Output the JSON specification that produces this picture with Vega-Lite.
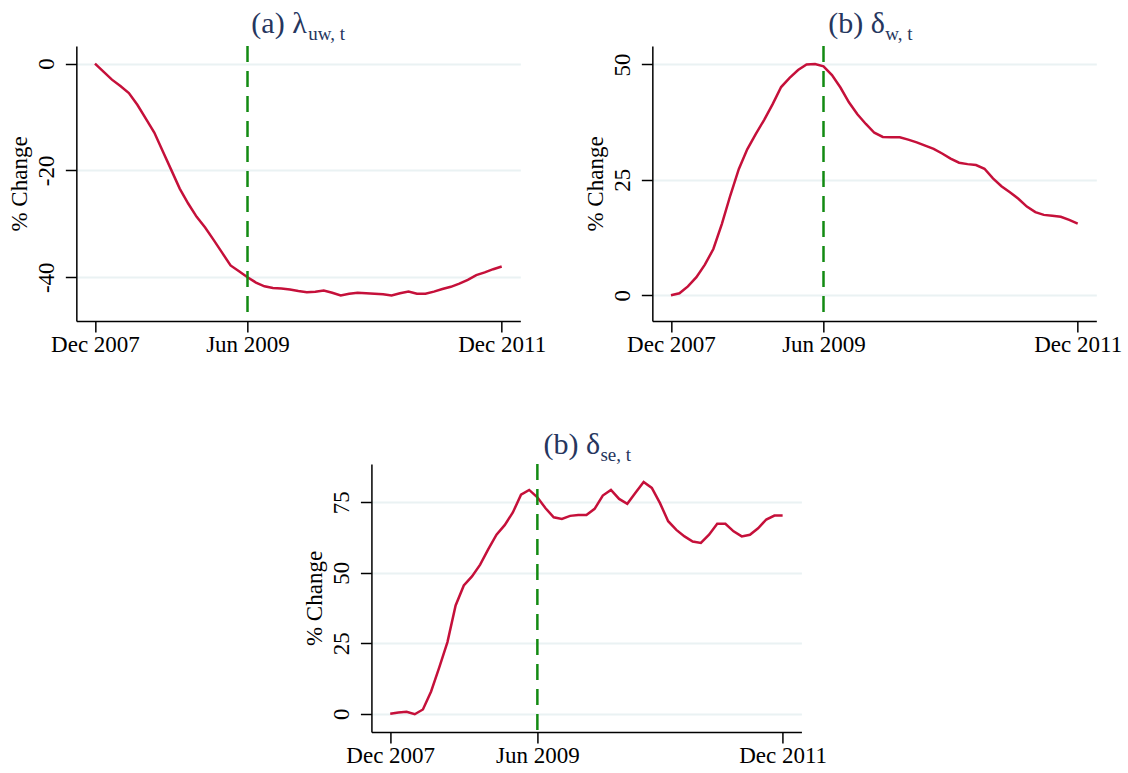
{
  "$schema": "https://vega.github.io/schema/vega-lite/v6.json",
  "background": "white",
  "padding": {"left": 8, "top": 8, "right": 2, "bottom": 0},
  "center": true,
  "spacing": 73,
  "datasets": {
    "series": [
      {"date": "2007-12", "m": 0, "lambda_uw": 0, "delta_w": 0, "delta_se": 0},
      {"date": "2008-01", "m": 1, "lambda_uw": -1.5, "delta_w": 0.4, "delta_se": 0.4},
      {"date": "2008-02", "m": 2, "lambda_uw": -3.0, "delta_w": 1.9, "delta_se": 0.7},
      {"date": "2008-03", "m": 3, "lambda_uw": -4.2, "delta_w": 3.9, "delta_se": -0.2},
      {"date": "2008-04", "m": 4, "lambda_uw": -5.5, "delta_w": 6.6, "delta_se": 1.5},
      {"date": "2008-05", "m": 5, "lambda_uw": -7.7, "delta_w": 10.0, "delta_se": 7.9},
      {"date": "2008-06", "m": 6, "lambda_uw": -10.3, "delta_w": 15.4, "delta_se": 16.4},
      {"date": "2008-07", "m": 7, "lambda_uw": -12.9, "delta_w": 21.6, "delta_se": 25.4},
      {"date": "2008-08", "m": 8, "lambda_uw": -16.4, "delta_w": 27.3, "delta_se": 38.4},
      {"date": "2008-09", "m": 9, "lambda_uw": -19.9, "delta_w": 31.6, "delta_se": 45.5},
      {"date": "2008-10", "m": 10, "lambda_uw": -23.4, "delta_w": 34.9, "delta_se": 48.7},
      {"date": "2008-11", "m": 11, "lambda_uw": -26.2, "delta_w": 38.0, "delta_se": 52.9},
      {"date": "2008-12", "m": 12, "lambda_uw": -28.7, "delta_w": 41.4, "delta_se": 58.4},
      {"date": "2009-01", "m": 13, "lambda_uw": -30.7, "delta_w": 45.1, "delta_se": 63.5},
      {"date": "2009-02", "m": 14, "lambda_uw": -33.0, "delta_w": 47.1, "delta_se": 66.9},
      {"date": "2009-03", "m": 15, "lambda_uw": -35.4, "delta_w": 48.8, "delta_se": 71.4},
      {"date": "2009-04", "m": 16, "lambda_uw": -37.8, "delta_w": 50.0, "delta_se": 77.7},
      {"date": "2009-05", "m": 17, "lambda_uw": -38.9, "delta_w": 50.1, "delta_se": 79.4},
      {"date": "2009-06", "m": 18, "lambda_uw": -40.0, "delta_w": 49.6, "delta_se": 76.8},
      {"date": "2009-07", "m": 19, "lambda_uw": -41.0, "delta_w": 47.7, "delta_se": 72.9},
      {"date": "2009-08", "m": 20, "lambda_uw": -41.7, "delta_w": 45.0, "delta_se": 69.7},
      {"date": "2009-09", "m": 21, "lambda_uw": -42.0, "delta_w": 41.8, "delta_se": 69.1},
      {"date": "2009-10", "m": 22, "lambda_uw": -42.1, "delta_w": 39.2, "delta_se": 70.2},
      {"date": "2009-11", "m": 23, "lambda_uw": -42.3, "delta_w": 37.1, "delta_se": 70.5},
      {"date": "2009-12", "m": 24, "lambda_uw": -42.6, "delta_w": 35.2, "delta_se": 70.5},
      {"date": "2010-01", "m": 25, "lambda_uw": -42.8, "delta_w": 34.3, "delta_se": 72.7},
      {"date": "2010-02", "m": 26, "lambda_uw": -42.7, "delta_w": 34.2, "delta_se": 77.4},
      {"date": "2010-03", "m": 27, "lambda_uw": -42.5, "delta_w": 34.2, "delta_se": 79.4},
      {"date": "2010-04", "m": 28, "lambda_uw": -42.9, "delta_w": 33.7, "delta_se": 76.2},
      {"date": "2010-05", "m": 29, "lambda_uw": -43.4, "delta_w": 33.1, "delta_se": 74.5},
      {"date": "2010-06", "m": 30, "lambda_uw": -43.1, "delta_w": 32.4, "delta_se": 78.4},
      {"date": "2010-07", "m": 31, "lambda_uw": -42.9, "delta_w": 31.7, "delta_se": 82.2},
      {"date": "2010-08", "m": 32, "lambda_uw": -43.0, "delta_w": 30.7, "delta_se": 80.1},
      {"date": "2010-09", "m": 33, "lambda_uw": -43.1, "delta_w": 29.6, "delta_se": 74.7},
      {"date": "2010-10", "m": 34, "lambda_uw": -43.2, "delta_w": 28.7, "delta_se": 68.3},
      {"date": "2010-11", "m": 35, "lambda_uw": -43.4, "delta_w": 28.4, "delta_se": 65.2},
      {"date": "2010-12", "m": 36, "lambda_uw": -43.0, "delta_w": 28.2, "delta_se": 62.9},
      {"date": "2011-01", "m": 37, "lambda_uw": -42.7, "delta_w": 27.4, "delta_se": 61.1},
      {"date": "2011-02", "m": 38, "lambda_uw": -43.1, "delta_w": 25.3, "delta_se": 60.6},
      {"date": "2011-03", "m": 39, "lambda_uw": -43.1, "delta_w": 23.6, "delta_se": 63.5},
      {"date": "2011-04", "m": 40, "lambda_uw": -42.7, "delta_w": 22.3, "delta_se": 67.4},
      {"date": "2011-05", "m": 41, "lambda_uw": -42.2, "delta_w": 20.9, "delta_se": 67.4},
      {"date": "2011-06", "m": 42, "lambda_uw": -41.8, "delta_w": 19.2, "delta_se": 64.7},
      {"date": "2011-07", "m": 43, "lambda_uw": -41.2, "delta_w": 18.0, "delta_se": 62.9},
      {"date": "2011-08", "m": 44, "lambda_uw": -40.5, "delta_w": 17.4, "delta_se": 63.5},
      {"date": "2011-09", "m": 45, "lambda_uw": -39.6, "delta_w": 17.2, "delta_se": 65.8},
      {"date": "2011-10", "m": 46, "lambda_uw": -39.1, "delta_w": 17.0, "delta_se": 68.9},
      {"date": "2011-11", "m": 47, "lambda_uw": -38.5, "delta_w": 16.3, "delta_se": 70.3},
      {"date": "2011-12", "m": 48, "lambda_uw": -38.0, "delta_w": 15.5, "delta_se": 70.3}
    ],
    "recession_end": [
      {"event": "End of recession", "date": "2009-06", "m": 18}
    ]
  },
  "vconcat": [
    {
      "hconcat": [
        {
          "width": 444,
          "height": 275,
          "title": {"text": "(a) λ", "subtitle": "\u200b\u00a0\u00a0\u00a0\u00a0\u00a0\u00a0\u00a0\u00a0\u00a0\u00a0\u00a0\u00a0uw, t", "dx": 175},
          "layer": [
            {
              "data": {"name": "series"},
              "mark": {"type": "line", "color": "#C5103A", "strokeWidth": 2.5},
              "encoding": {
                "x": {"field": "m", "type": "quantitative", "scale": {"domain": [-2.2, 50.2], "nice": false, "zero": false},
                      "axis": {"values": [0, 18, 48], "title": null, "labelExpr": "datum.value == 0 ? 'Dec 2007' : datum.value == 18 ? 'Jun 2009' : 'Dec 2011'"}},
                "y": {"field": "lambda_uw", "type": "quantitative", "scale": {"domain": [-48.2, 3.3], "nice": false, "zero": false},
                      "axis": {"values": [-40, -20, 0], "title": "% Change", "labelExpr": "'' + datum.value"}}
              }
            },
            {
              "data": {"name": "recession_end"},
              "mark": {"type": "rule", "color": "#128A12", "strokeWidth": 2.5, "strokeDash": [16, 9]},
              "encoding": {"x": {"field": "m", "type": "quantitative"}}
            }
          ]
        },
        {
          "width": 444,
          "height": 275,
          "title": {"text": "(b) δ", "subtitle": "\u200b\u00a0\u00a0\u00a0\u00a0\u00a0\u00a0\u00a0\u00a0\u00a0\u00a0\u00a0\u00a0w, t", "dx": 176},
          "layer": [
            {
              "data": {"name": "series"},
              "mark": {"type": "line", "color": "#C5103A", "strokeWidth": 2.5},
              "encoding": {
                "x": {"field": "m", "type": "quantitative", "scale": {"domain": [-2.2, 50.2], "nice": false, "zero": false},
                      "axis": {"values": [0, 18, 48], "title": null, "labelExpr": "datum.value == 0 ? 'Dec 2007' : datum.value == 18 ? 'Jun 2009' : 'Dec 2011'"}},
                "y": {"field": "delta_w", "type": "quantitative", "scale": {"domain": [-5.6, 54], "nice": false, "zero": false},
                      "axis": {"values": [0, 25, 50], "title": "% Change", "labelExpr": "'' + datum.value"}}
              }
            },
            {
              "data": {"name": "recession_end"},
              "mark": {"type": "rule", "color": "#128A12", "strokeWidth": 2.5, "strokeDash": [16, 9]},
              "encoding": {"x": {"field": "m", "type": "quantitative"}}
            }
          ]
        }
      ],
      "spacing": 38
    },
    {
      "width": 430,
      "height": 268,
      "title": {"text": "(b) δ", "subtitle": "\u200b\u00a0\u00a0\u00a0\u00a0\u00a0\u00a0\u00a0\u00a0\u00a0\u00a0\u00a0\u00a0se, t", "dx": 172, "offset": -2},
      "layer": [
        {
          "data": {"name": "series"},
          "mark": {"type": "line", "color": "#C5103A", "strokeWidth": 2.5},
          "encoding": {
            "x": {"field": "m", "type": "quantitative", "scale": {"domain": [-2.3, 50.3], "nice": false, "zero": false},
                  "axis": {"values": [0, 18, 48], "title": null, "labelExpr": "datum.value == 0 ? 'Dec 2007' : datum.value == 18 ? 'Jun 2009' : 'Dec 2011'"}},
            "y": {"field": "delta_se", "type": "quantitative", "scale": {"domain": [-6.5, 88.6], "nice": false, "zero": false},
                  "axis": {"values": [0, 25, 50, 75], "title": "% Change", "labelExpr": "'' + datum.value"}}
          }
        },
        {
          "data": {"name": "recession_end"},
          "mark": {"type": "rule", "color": "#128A12", "strokeWidth": 2.5, "strokeDash": [16, 9]},
          "encoding": {"x": {"field": "m", "type": "quantitative"}}
        }
      ]
    }
  ],
  "config": {
    "view": {"stroke": null},
    "font": "Liberation Serif",
    "axis": {
      "labelFont": "Liberation Serif",
      "titleFont": "Liberation Serif",
      "labelFontSize": 23,
      "titleFontSize": 23,
      "titleFontWeight": "normal",
      "labelColor": "#000000",
      "titleColor": "#000000",
      "domainColor": "#000000",
      "domainWidth": 1.5,
      "tickColor": "#000000",
      "tickWidth": 1.5,
      "tickSize": 11,
      "grid": false,
      "labelPadding": 1,
      "labelOverlap": false,
      "labelFlush": false
    },
    "axisY": {
      "grid": true,
      "gridColor": "#EAF2F3",
      "gridWidth": 2,
      "labelAngle": -90,
      "labelAlign": "center",
      "labelBaseline": "alphabetic",
      "labelPadding": 12,
      "titlePadding": 4
    },
    "title": {
      "font": "Liberation Serif",
      "fontSize": 30,
      "fontWeight": "normal",
      "color": "#26365E",
      "anchor": "start",
      "frame": "group",
      "offset": 1,
      "subtitleFont": "Liberation Serif",
      "subtitleFontSize": 19,
      "subtitleColor": "#26365E",
      "subtitlePadding": -14
    }
  }
}
